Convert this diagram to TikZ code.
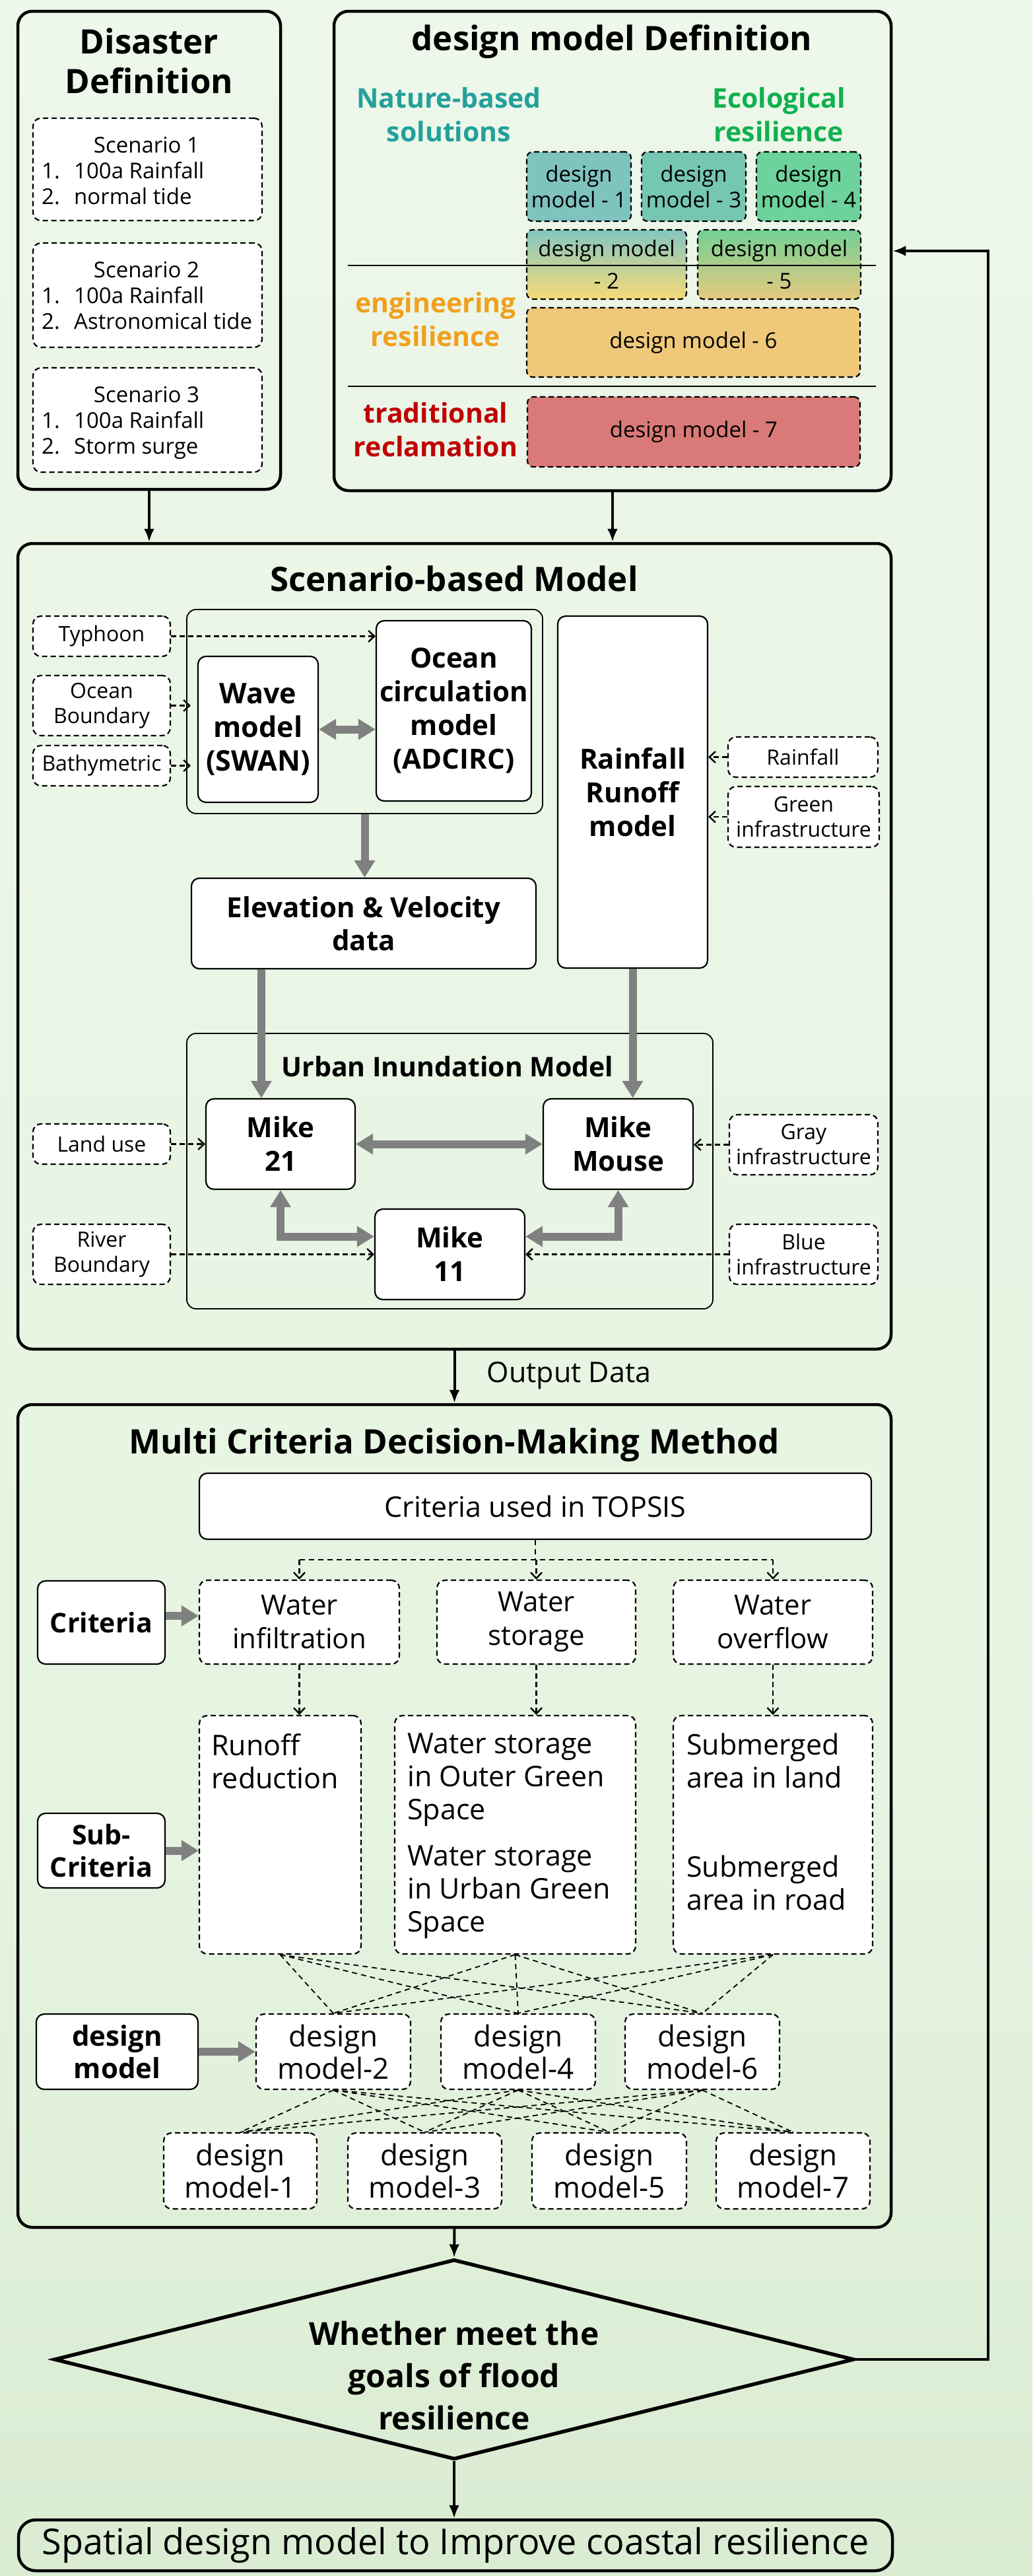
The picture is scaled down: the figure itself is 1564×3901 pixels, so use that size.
\documentclass[tikz,border=0pt]{standalone}
\usepackage{fontspec}
\setmainfont{Open Sans}
\usetikzlibrary{arrows.meta,calc,shapes.geometric}
\definecolor{bgA}{HTML}{EDF7EA}
\definecolor{bgM}{HTML}{E6F4E1}
\definecolor{bgB}{HTML}{DAECD2}
\definecolor{garr}{HTML}{808080}
\definecolor{cNbs}{HTML}{23A09A}
\definecolor{cEco}{HTML}{10B050}
\definecolor{cEng}{HTML}{F0A01E}
\definecolor{cTra}{HTML}{C00000}
\definecolor{cDa}{HTML}{7FC3BF}
\definecolor{cDb}{HTML}{76C7B2}
\definecolor{cDc}{HTML}{6DD29B}
\definecolor{cDdt}{HTML}{85C6C1}
\definecolor{cDdb}{HTML}{F5DB77}
\definecolor{cDet}{HTML}{72D195}
\definecolor{cDeb}{HTML}{E5C97F}
\definecolor{cDf}{HTML}{F0C87A}
\definecolor{cDg}{HTML}{D97A78}
\newcommand\fs[2]{\fontsize{#1}{#2}\selectfont}
\newcommand\bx[7]{\node[#6, inner sep=0pt, minimum width={#4-#2}, minimum height={#5-#3}] (#1) at ({(#2+#4)/2},{(#3+#5)/2}) {#7};}
\tikzset{
 outerbox/.style={draw=black, line width=4.5pt, rounded corners=22pt},
 solidbox/.style={draw=black, line width=2.2pt, rounded corners=12pt, fill=white},
 dashbox/.style={draw=black, line width=2.2pt, dash pattern=on 8pt off 5pt, rounded corners=12pt, fill=white},
 grpbox/.style={draw=black, line width=1.8pt, rounded corners=14pt},
 conn/.style={draw=black, line width=4pt, -{Latex[length=20pt,width=16pt]}},
 dconn/.style={draw=black, line width=2.4pt, dash pattern=on 8pt off 5pt, -{Straight Barb[length=9pt,width=17pt]}},
 dline/.style={draw=black, line width=1.8pt, dash pattern=on 8pt off 6pt},
 garrow/.style={draw=garr, line width=12pt, -{Triangle[width=30pt,length=26pt]}},
 gdarrow/.style={draw=garr, line width=12pt, {Triangle[width=30pt,length=26pt]}-{Triangle[width=30pt,length=26pt]}},
 ttl/.style={font=\fs{51}{60}\bfseries, align=center},
 cat/.style={font=\fs{41}{51}\bfseries, align=center},
 dmt/.style={font=\fs{33}{39}, align=center},
 inp/.style={font=\fs{32}{38}, align=center},
 bld/.style={font=\fs{42}{51}\bfseries, align=center},
 reg/.style={font=\fs{43}{51}, align=center},
 subt/.style={font=\fs{43}{50}, align=left, anchor=north west, inner sep=0pt},
 sct/.style={font=\fs{33}{39}, inner sep=0pt},
}
\begin{document}
\begin{tikzpicture}[x=1pt,y=-1pt]
\useasboundingbox (0,0) rectangle (1564,3901);
\shade[top color=bgA, bottom color=bgM] (0,0) rectangle (1564,2700);
\shade[top color=bgM, bottom color=bgB] (0,2700) rectangle (1564,3901);

% ---------------- Disaster Definition
\bx{dis}{27}{17}{425}{741}{outerbox}{}
\node[ttl] (dist) at (226,92) {Disaster\\Definition};
\bx{sa}{50}{179}{397}{334}{dashbox}{}
\bx{sb}{50}{368}{397}{526}{dashbox}{}
\bx{sc}{50}{557}{397}{715}{dashbox}{}
\node[sct, anchor=base] (sat) at (222,231) {Scenario 1};
\node[sct, anchor=base west] (san1) at (63,270) {1.};
\node[sct, anchor=base west] (sai1) at (112,270) {100a Rainfall};
\node[sct, anchor=base west] (san2) at (63,309) {2.};
\node[sct, anchor=base west] (sai2) at (112,309) {normal tide};
\node[sct, anchor=base] (sbt) at (222,420) {Scenario 2};
\node[sct, anchor=base west] (sbn1) at (63,459) {1.};
\node[sct, anchor=base west] (sbi1) at (112,459) {100a Rainfall};
\node[sct, anchor=base west] (sbn2) at (63,498) {2.};
\node[sct, anchor=base west] (sbi2) at (112,498) {Astronomical tide};
\node[sct, anchor=base] (sct1) at (222,609) {Scenario 3};
\node[sct, anchor=base west] (scn1) at (63,648) {1.};
\node[sct, anchor=base west] (sci1) at (112,648) {100a Rainfall};
\node[sct, anchor=base west] (scn2) at (63,687) {2.};
\node[sct, anchor=base west] (sci2) at (112,687) {Storm surge};

% ---------------- design model Definition
\bx{dmd}{506}{17}{1350}{743}{outerbox}{}
\node[ttl] (dmdt) at (927,63) {design model Definition};
\node[cat, text=cNbs] (nbs) at (680,174) {Nature-based\\solutions};
\node[cat, text=cEco] (eco) at (1180,174) {Ecological\\resilience};
\node[cat, text=cEng] (eng) at (660,484) {engineering\\resilience};
\node[cat, text=cTra] (tra) at (660,651) {traditional\\reclamation};
\bx{ma}{798}{230}{956}{335}{dashbox, fill=cDa, rounded corners=9pt, dmt}{design\\model - 1}
\bx{mc}{972}{230}{1130}{335}{dashbox, fill=cDb, rounded corners=9pt, dmt}{design\\model - 3}
\bx{md}{1146}{230}{1304}{335}{dashbox, fill=cDc, rounded corners=9pt, dmt}{design\\model - 4}
\bx{mb}{798}{348}{1040}{453}{dashbox, top color=cDdt, bottom color=cDdb, rounded corners=9pt, font=\fs{33}{49}, align=center}{design model\\- 2}
\bx{me}{1057}{348}{1304}{453}{dashbox, top color=cDet, bottom color=cDeb, rounded corners=9pt, font=\fs{33}{49}, align=center}{design model\\- 5}
\bx{mf}{798}{466}{1303}{571}{dashbox, fill=cDf, rounded corners=9pt, dmt}{design model - 6}
\bx{mg}{799}{601}{1303}{707}{dashbox, fill=cDg, rounded corners=9pt, dmt}{design model - 7}
\draw[line width=2pt] (527,402) -- (1327,402);
\draw[line width=2pt] (527,585) -- (1327,585);

% ---------------- Scenario-based Model
\bx{scen}{27}{823}{1350}{2043}{outerbox}{}
\node[ttl] (scent) at (688,876) {Scenario-based Model};
\bx{grpa}{283}{923}{822}{1232}{grpbox}{}
\bx{ty}{50}{933}{258}{994}{dashbox, inp}{Typhoon}
\bx{ob}{50}{1023}{258}{1114}{dashbox, inp}{Ocean\\Boundary}
\bx{bath}{50}{1129}{258}{1190}{dashbox, inp}{Bathymetric}
\bx{wave}{300}{994}{482}{1215}{solidbox, font=\fs{43}{51}\bfseries, align=center}{Wave\\model\\(SWAN)}
\bx{oc}{570}{940}{805}{1213}{solidbox, bld}{Ocean\\circulation\\model\\(ADCIRC)}
\bx{rr}{845}{933}{1072}{1466}{solidbox, bld}{Rainfall\\Runoff\\model}
\bx{rain}{1103}{1116}{1330}{1177}{dashbox, inp}{Rainfall}
\bx{gi}{1103}{1191}{1332}{1283}{dashbox, inp}{Green\\infrastructure}
\bx{elev}{290}{1330}{812}{1467}{solidbox, font=\fs{42}{50}\bfseries, align=center}{Elevation \& Velocity\\data}
\bx{grpb}{283}{1565}{1080}{1982}{grpbox}{}
\node[font=\fs{41}{48}\bfseries] (uimt) at (678,1615) {Urban Inundation Model};
\bx{mtw}{312}{1664}{538}{1801}{solidbox, bld}{Mike\\21}
\bx{mm}{823}{1664}{1050}{1801}{solidbox, bld}{Mike\\Mouse}
\bx{mel}{568}{1831}{795}{1968}{solidbox, bld}{Mike\\11}
\bx{lu}{50}{1702}{258}{1763}{dashbox, inp}{Land use}
\bx{gray}{1105}{1688}{1330}{1779}{dashbox, inp}{Gray\\infrastructure}
\bx{rb}{50}{1854}{258}{1945}{dashbox, inp}{River\\Boundary}
\bx{blue}{1105}{1854}{1330}{1945}{dashbox, inp}{Blue\\infrastructure}

\draw[dconn] (ty.east) -- (ty.east -| oc.west);
\draw[dconn, shorten >=10pt] (ob.east) -- (ob.east -| wave.west);
\draw[dconn, shorten >=10pt] (bath.east) -- (bath.east -| wave.west);
\draw[gdarrow] (wave.east) -- (wave.east -| oc.west);
\draw[dconn] (rain.west) -- (rain.west -| rr.east);
\draw[dconn] (gi.west) -- (gi.west -| rr.east);
\draw[garrow] (grpa.south) -- (grpa.south |- elev.north);
\coordinate (ea) at ($(elev.south west)+(107,0)$);
\draw[garrow] (ea) -- (ea |- mtw.north);
\draw[garrow] (rr.south) -- (rr.south |- mm.north);
\draw[gdarrow] (mtw.east) -- (mm.west);
\coordinate (mell) at ($(mel.west)+(0,-27)$);
\coordinate (melr) at ($(mel.east)+(0,-27)$);
\draw[gdarrow] (mtw.south) |- (mell);
\draw[gdarrow] (mm.south) |- (melr);
\draw[dconn] (lu.east) -- (lu.east -| mtw.west);
\draw[dconn] (gray.west) -- (gray.west -| mm.east);
\draw[dconn] (rb.east) -- (rb.east -| mel.west);
\draw[dconn] (blue.west) -- (blue.west -| mel.east);

% ---------------- connectors top
\draw[conn] (dis.south) -- (dis.south |- scen.north);
\draw[conn] (dmd.south) -- (dmd.south |- scen.north);

% ---------------- MCDM
\bx{mcdm}{27}{2127}{1350}{3373}{outerbox}{}
\draw[conn] (scen.south) -- (scen.south |- mcdm.north);
\node[font=\fs{43}{51}] (outd) at (862,2083) {Output Data};
\node[ttl] (mcdmt) at (688,2188) {Multi Criteria Decision-Making Method};
\bx{top}{302}{2231}{1320}{2331}{solidbox, reg}{Criteria used in TOPSIS}
\bx{ca}{302}{2393}{605}{2520}{dashbox, font=\fs{42}{51}, align=center}{Water\\infiltration}
\bx{cb}{662}{2393}{963}{2520}{dashbox, font=\fs{42}{51}, align=center}{Water\\storage}
\bx{cc}{1020}{2393}{1322}{2520}{dashbox, font=\fs{42}{51}, align=center}{Water\\overflow}
\bx{cl}{57}{2394}{250}{2520}{solidbox, font=\fs{41}{49}\bfseries, align=center}{Criteria}
\bx{sa1}{302}{2598}{547}{2959}{dashbox}{}
\bx{sb1}{598}{2598}{963}{2959}{dashbox}{}
\bx{sc1}{1020}{2598}{1322}{2959}{dashbox}{}
\node[subt] (sat1) at (320,2625) {Runoff\\reduction};
\node[subt] (sbt1) at (617,2625) {Water storage\\in Outer Green\\Space};
\node[subt] (sbt2) at (617,2795) {Water storage\\in Urban Green\\Space};
\node[subt] (sct2) at (1040,2625) {Submerged\\area in land};
\node[subt] (sct3) at (1040,2810) {Submerged\\area in road};
\bx{scl}{57}{2746}{250}{2859}{solidbox, font=\fs{41}{49}\bfseries, align=center}{Sub-\\Criteria}
\bx{dl}{55}{3050}{300}{3164}{solidbox, font=\fs{42}{49}\bfseries, align=center}{design\\model}
\bx{db}{388}{3050}{622}{3164}{dashbox, font=\fs{44}{49}, align=center}{design\\model-2}
\bx{dd}{668}{3050}{902}{3164}{dashbox, font=\fs{44}{49}, align=center}{design\\model-4}
\bx{df}{947}{3050}{1181}{3164}{dashbox, font=\fs{44}{49}, align=center}{design\\model-6}
\bx{da}{248}{3230}{480}{3345}{dashbox, font=\fs{44}{49}, align=center}{design\\model-1}
\bx{dc}{527}{3230}{760}{3345}{dashbox, font=\fs{44}{49}, align=center}{design\\model-3}
\bx{de}{806}{3230}{1040}{3345}{dashbox, font=\fs{44}{49}, align=center}{design\\model-5}
\bx{dg}{1085}{3230}{1318}{3345}{dashbox, font=\fs{44}{49}, align=center}{design\\model-7}

\coordinate (tj) at (811,2362);
\draw[dline] (top.south) -- (tj);
\draw[dline] (tj -| ca.north) -- (tj -| cc.north);
\draw[dconn] (tj -| ca.north) -- (ca.north);
\draw[dconn] (tj -| cb.north) -- (cb.north);
\draw[dconn] (tj -| cc.north) -- (cc.north);
\draw[dconn] (ca.south) -- (ca.south |- sa1.north);
\draw[dconn] (cb.south) -- (cb.south |- sb1.north);
\draw[dconn] (cc.south) -- (cc.south |- sc1.north);
\draw[garrow] ([yshift=10pt]cl.east) -- ([yshift=10pt]cl.east -| ca.west);
\draw[garrow] (scl.east) -- (scl.east -| sa1.west);
\draw[garrow] (dl.east) -- (dl.east -| db.west);
\foreach \a in {sa1,sb1,sc1} \foreach \b in {db,dd,df} \draw[dline] (\a.south) -- (\b.north);
\foreach \a in {db,dd,df} \foreach \b in {da,dc,de,dg} \draw[dline] (\a.south) -- (\b.north);

% ---------------- decision
\node[diamond, draw=black, line width=5.5pt, minimum width=1212pt, minimum height=303pt, inner sep=0pt] (dia) at (688,3573) {};
\node[font=\fs{48}{64}\bfseries, align=center] (diat) at (688,3597) {Whether meet the\\goals of flood\\resilience};
\draw[conn] (mcdm.south) -- (dia.north);
\bx{fin}{28}{3816}{1352}{3893}{outerbox, rounded corners=26pt, font=\fs{54}{60}}{Spatial design model to Improve coastal resilience}
\draw[conn] (dia.south) -- (dia.south |- fin.north);
\coordinate (fb) at (1497,380);
\draw[conn] (dia.east) -| (fb) -- (fb -| dmd.east);
\end{tikzpicture}
\end{document}
